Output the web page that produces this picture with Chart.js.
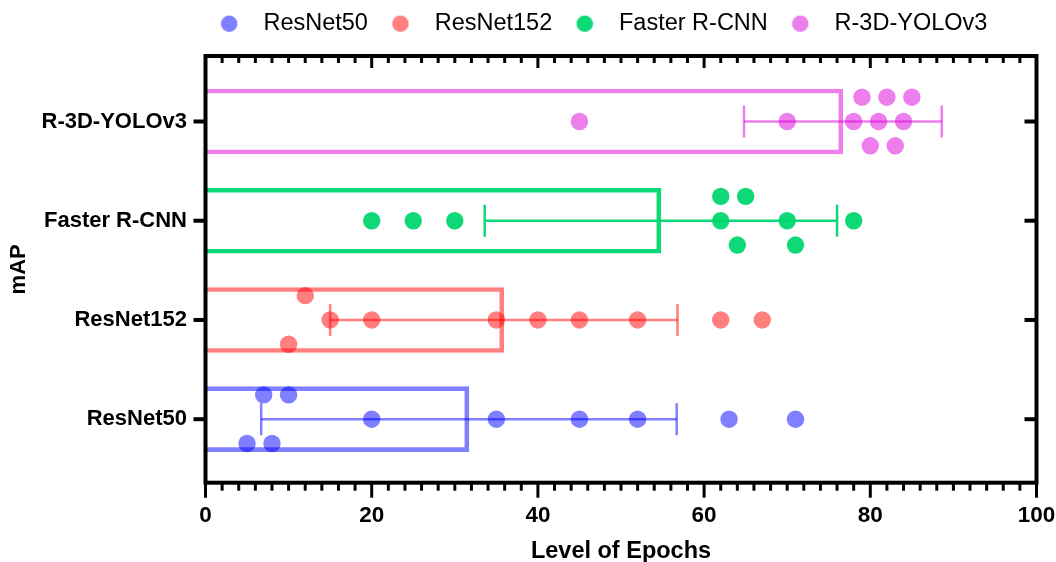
<!DOCTYPE html>
<html><head><meta charset="utf-8">
<script src="https://cdn.jsdelivr.net/npm/chart.js@4.4.1/dist/chart.umd.min.js"></script>
<style>html,body{margin:0;padding:0;background:#fff;}</style>
</head><body>
<canvas id="c" width="1056" height="562"></canvas>
<script>
// ---- data ----
const categories = ['ResNet50', 'ResNet152', 'Faster R-CNN', 'R-3D-YOLOv3'];
const xTicks = [0, 20, 40, 60, 80, 100];

const resnet50Values  = [20, 35, 45, 52, 63, 71, 7, 10, 5, 8];
const resnet50Rows    = [0, 0, 0, 0, 0, 0, 1, 1, -1, -1];
const resnet152Values = [15, 20, 35, 40, 45, 52, 62, 67, 12, 10];
const resnet152Rows   = [0, 0, 0, 0, 0, 0, 0, 0, 1, -1];
const fasterValues    = [20, 25, 30, 62, 70, 78, 62, 65, 64, 71];
const fasterRows      = [0, 0, 0, 0, 0, 0, 1, 1, -1, -1];
const yoloValues      = [45, 70, 78, 81, 84, 79, 82, 85, 80, 83];
const yoloRows        = [0, 0, 0, 0, 0, 1, 1, 1, -1, -1];

const barMeans = [31.7, 35.9, 54.8, 76.7];
const barSD    = [25.0, 20.9, 21.2, 11.9];

// ---- styling ----
const seriesColors = ['rgba(0,0,255,0.5)', 'rgba(255,0,0,0.5)', 'rgba(0,215,110,0.94)', 'rgba(220,0,220,0.5)'];
const FONT = '"Liberation Sans", Arial, Helvetica, sans-serif';
const ROW_STEP = 0.245;
const LEGEND_SHIFT = -24;

const seriesValues = [resnet50Values, resnet152Values, fasterValues, yoloValues];
const seriesRows = [resnet50Rows, resnet152Rows, fasterRows, yoloRows];

function legendDot(color) {
  const cv = document.createElement('canvas');
  cv.width = 18; cv.height = 18;
  const g = cv.getContext('2d');
  g.fillStyle = color;
  g.beginPath(); g.arc(9, 9, 8.3, 0, Math.PI * 2); g.fill();
  return cv;
}
const legendDots = seriesColors.map(legendDot);

const datasets = [];
// scatter points
categories.forEach((name, i) => {
  datasets.push({
    type: 'scatter',
    label: name,
    data: seriesValues[i].map((v, k) => ({ x: v, y: i + seriesRows[i][k] * ROW_STEP })),
    backgroundColor: seriesColors[i],
    borderWidth: 0,
    pointRadius: 8.7,
    pointHoverRadius: 8.7,
    order: 0
  });
});
// error bars (mean ± SD)
categories.forEach((name, i) => {
  datasets.push({
    type: 'line',
    label: name + ' SD',
    data: [{ x: barMeans[i] - barSD[i], y: i }, { x: barMeans[i] + barSD[i], y: i }],
    borderColor: seriesColors[i],
    borderWidth: 2.5,
    pointStyle: 'line',
    pointRotation: 90,
    pointRadius: 16,
    pointBorderWidth: 2.5,
    pointBorderColor: seriesColors[i],
    fill: false,
    order: 1
  });
});
// mean bars
datasets.push({
  type: 'bar',
  label: 'mean',
  data: barMeans.map((m, i) => ({ x: m, y: i })),
  backgroundColor: 'rgba(0,0,0,0)',
  borderColor: seriesColors,
  borderWidth: 4,
  barThickness: 65,
  grouped: false,
  order: 2
});

const framePlugin = {
  id: 'frame',
  beforeInit(chart) {
    const lg = chart.legend;
    if (lg) {
      const orig = lg.fit.bind(lg);
      lg.fit = function () { orig(); this.height = 54; };
    }
  },
  beforeDraw(chart) {
    const lg = chart.legend;
    if (lg && !lg._shifted) { lg.left += LEGEND_SHIFT; lg.right += LEGEND_SHIFT; lg._shifted = true; }
  },
  afterDraw(chart) {
    const { ctx, chartArea: { left, right, top, bottom } } = chart;
    const xs = chart.scales.x, ys = chart.scales.y;
    ctx.save();
    ctx.strokeStyle = '#000';
    ctx.lineCap = 'butt';
    ctx.lineWidth = 3;
    for (let v = 0; v <= 100; v += 2) {
      const px = xs.getPixelForValue(v);
      const major = xTicks.includes(v);
      ctx.beginPath(); ctx.moveTo(px, bottom); ctx.lineTo(px, bottom + (major ? 15 : 8)); ctx.stroke();
      if (v > 0 && v < 100) {
        ctx.beginPath(); ctx.moveTo(px, top); ctx.lineTo(px, top + (major ? 12 : 7)); ctx.stroke();
      }
    }
    ctx.lineWidth = 4;
    categories.forEach((c, i) => {
      const py = ys.getPixelForValue(i);
      ctx.beginPath(); ctx.moveTo(left - 12, py); ctx.lineTo(left, py); ctx.stroke();
      ctx.beginPath(); ctx.moveTo(right, py); ctx.lineTo(right - 12, py); ctx.stroke();
    });
    ctx.lineJoin = 'miter';
    ctx.strokeRect(left, top, right - left, bottom - top);
    ctx.restore();
  }
};

new Chart(document.getElementById('c'), {
  type: 'bar',
  data: { datasets },
  options: {
    indexAxis: 'y',
    responsive: false,
    devicePixelRatio: 1,
    animation: false,
    events: [],
    layout: { padding: { top: 2, right: 19.5, bottom: 0, left: 0 } },
    plugins: {
      tooltip: { enabled: false },
      legend: {
        position: 'top',
        fullSize: false,
        labels: {
          usePointStyle: true,
          pointStyleWidth: 45,
          padding: 10,
          color: '#000',
          font: { family: FONT, size: 23.5 },
          filter: (item) => item.datasetIndex < categories.length,
          generateLabels(chart) {
            const items = Chart.defaults.plugins.legend.labels.generateLabels(chart);
            return items.map(it => {
              if (it.datasetIndex < categories.length) it.pointStyle = legendDots[it.datasetIndex];
              return it;
            });
          }
        }
      }
    },
    scales: {
      x: {
        type: 'linear', position: 'bottom', min: 0, max: 100, offset: false,
        grid: { display: false, drawTicks: false },
        border: { display: false },
        ticks: {
          stepSize: 20, autoSkip: false, maxRotation: 0, padding: 20, color: '#000',
          font: { family: FONT, size: 22.5, weight: 'bold' }
        },
        title: {
          display: true, text: 'Level of Epochs', color: '#000',
          font: { family: FONT, size: 23.5, weight: 'bold', lineHeight: 1 },
          padding: { top: 0, bottom: -1 }
        },
        afterFit(s) { s.height = 79.3; s.paddingLeft = 0; s.paddingRight = 0; }
      },
      y: {
        type: 'linear', position: 'left', min: -0.64, max: 3.66, offset: false,
        grid: { display: false, drawTicks: false },
        border: { display: false },
        afterBuildTicks(s) { s.ticks = categories.map((c, i) => ({ value: i })); },
        ticks: {
          autoSkip: false, padding: 18.5, color: '#000',
          font: { family: FONT, size: 22, weight: 'bold' },
          callback: (v) => categories[v]
        },
        title: {
          display: true, text: 'mAP', color: '#000',
          font: { family: FONT, size: 22, weight: 'bold', lineHeight: 1 },
          padding: { top: 8, bottom: 0 }
        },
        afterFit(s) { s.width = 205.5; s.paddingTop = 0; s.paddingBottom = 0; }
      }
    }
  },
  plugins: [framePlugin]
});
</script>
</body></html>
